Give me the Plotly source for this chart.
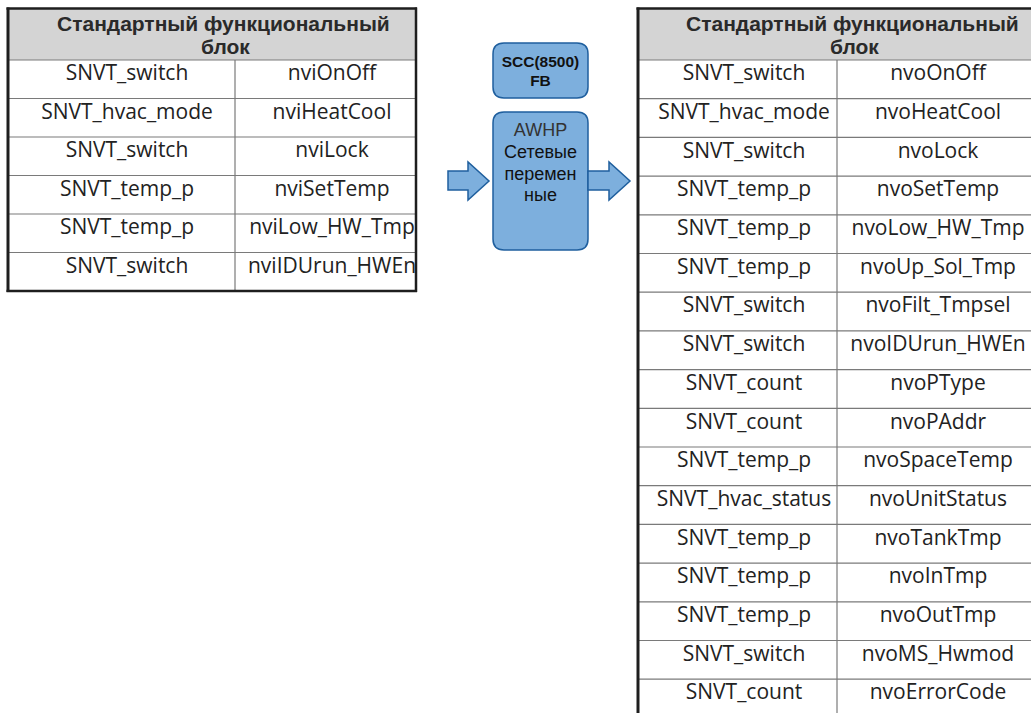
import plotly.graph_objects as go

# ---------------- data ----------------
header_lines = ["Стандартный функциональный", "блок"]

left_types = ["SNVT_switch", "SNVT_hvac_mode", "SNVT_switch", "SNVT_temp_p",
              "SNVT_temp_p", "SNVT_switch"]
left_names = ["nviOnOff", "nviHeatCool", "nviLock", "nviSetTemp",
              "nviLow_HW_Tmp", "nviIDUrun_HWEn"]

right_types = ["SNVT_switch", "SNVT_hvac_mode", "SNVT_switch", "SNVT_temp_p",
               "SNVT_temp_p", "SNVT_temp_p", "SNVT_switch", "SNVT_switch",
               "SNVT_count", "SNVT_count", "SNVT_temp_p", "SNVT_hvac_status",
               "SNVT_temp_p", "SNVT_temp_p", "SNVT_temp_p", "SNVT_switch",
               "SNVT_count"]
right_names = ["nvoOnOff", "nvoHeatCool", "nvoLock", "nvoSetTemp",
               "nvoLow_HW_Tmp", "nvoUp_Sol_Tmp", "nvoFilt_Tmpsel", "nvoIDUrun_HWEn",
               "nvoPType", "nvoPAddr", "nvoSpaceTemp", "nvoUnitStatus",
               "nvoTankTmp", "nvoInTmp", "nvoOutTmp", "nvoMS_Hwmod",
               "nvoErrorCode"]

fb_lines = ["SCC(8500)", "FB"]
awhp_lines = ["AWHP", "Сетевые", "перемен", "ные"]

# ---------------- layout constants ----------------
W, H = 1031, 713
HEAD_TOP, HEAD_BOT = 9, 60
CELL_FONT = dict(family="Open Sans", size=21, color="#222222")
HEAD_FONT = dict(family="Liberation Sans", size=21, color="#2a2a2a")
GRID = "#7a7a7a"
DARK = "#1e1e1e"
BOX_FILL = "#7DAFDD"
BOX_LINE = "#1F5F9E"

fig = go.Figure()
shapes = []


def table(x0, xdiv, x1, types, names, row_h, tx1, tx2, hx, right_border, bottom_border):
    n = len(types)
    ybot = HEAD_BOT + row_h * n
    shapes.append(dict(type="rect", x0=x0, x1=x1, y0=HEAD_TOP, y1=HEAD_BOT,
                       fillcolor="#d4d4d4", line=dict(width=0), layer="below"))
    for i in range(n + 1):
        y = HEAD_BOT + row_h * i
        if y > H:
            break
        shapes.append(dict(type="line", x0=x0, x1=x1, y0=y, y1=y,
                           line=dict(color=GRID, width=1.2)))
    shapes.append(dict(type="line", x0=xdiv, x1=xdiv, y0=HEAD_BOT, y1=min(ybot, H + 5),
                       line=dict(color=GRID, width=1.2)))
    shapes.append(dict(type="line", x0=x0, x1=x0, y0=HEAD_TOP - 1.5, y1=min(ybot, H + 5) + 1,
                       line=dict(color=DARK, width=3)))
    shapes.append(dict(type="line", x0=x0 - 1.5, x1=x1 + (1 if right_border else 5),
                       y0=HEAD_TOP - 0.5, y1=HEAD_TOP - 0.5,
                       line=dict(color=DARK, width=2.5)))
    if right_border:
        shapes.append(dict(type="line", x0=x1, x1=x1, y0=HEAD_TOP - 1.5, y1=ybot + 1,
                           line=dict(color=DARK, width=2.5)))
    if bottom_border:
        shapes.append(dict(type="line", x0=x0 - 1.5, x1=x1 + 1, y0=ybot, y1=ybot,
                           line=dict(color=DARK, width=2.5)))
    ys = [HEAD_BOT + row_h * i + 15 for i in range(n)]
    fig.add_trace(go.Scatter(x=[tx1] * n, y=ys, text=types, mode="text",
                             textfont=CELL_FONT, hoverinfo="skip", showlegend=False))
    fig.add_trace(go.Scatter(x=[tx2] * n, y=ys, text=names, mode="text",
                             textfont=CELL_FONT, hoverinfo="skip", showlegend=False))
    for line, yy, dx in zip(header_lines, [23, 46], [0, 2]):
        fig.add_annotation(x=hx + dx, y=yy, text="<b>" + line + "</b>",
                           showarrow=False, font=HEAD_FONT, xanchor="center", yanchor="middle")


table(8, 235, 416, left_types, left_names, 38.5, 127, 332, 223, True, True)
table(638, 837, 1031, right_types, right_names, 38.7, 744, 938, 852, False, False)


def rounded_rect(x0, y0, x1, y1, r):
    return (f"M {x0+r},{y0} L {x1-r},{y0} Q {x1},{y0} {x1},{y0+r} "
            f"L {x1},{y1-r} Q {x1},{y1} {x1-r},{y1} L {x0+r},{y1} "
            f"Q {x0},{y1} {x0},{y1-r} L {x0},{y0+r} Q {x0},{y0} {x0+r},{y0} Z")


def arrow(x0, xb, xt, ys0, ys1, yh0, yh1):
    yc = (yh0 + yh1) / 2
    return (f"M {x0},{ys0} L {xb},{ys0} L {xb},{yh0} L {xt},{yc} "
            f"L {xb},{yh1} L {xb},{ys1} L {x0},{ys1} Z")


for p in [rounded_rect(493, 43, 588, 98, 11), rounded_rect(493, 112, 588, 250, 11),
          arrow(448, 468, 489, 171, 190, 162, 200), arrow(588, 609, 630, 171, 190, 162, 200)]:
    shapes.append(dict(type="path", path=p, fillcolor=BOX_FILL, layer="below",
                       line=dict(color=BOX_LINE, width=1.5)))

fig.add_trace(go.Scatter(x=[540.5] * len(fb_lines), y=[63, 82], text=["<b>%s</b>" % t for t in fb_lines],
                         mode="text", textfont=dict(family="Liberation Sans", size=15.5, color="#111111"),
                         hoverinfo="skip", showlegend=False))
awhp_y = [131, 153, 175, 196]
awhp_col = ["#333333", "#111111", "#111111", "#111111"]
fig.add_trace(go.Scatter(x=[540.5] * len(awhp_lines), y=awhp_y, text=awhp_lines, mode="text",
                         textfont=dict(family="Liberation Sans", size=18, color=awhp_col),
                         hoverinfo="skip", showlegend=False))

fig.update_layout(
    width=W, height=H, margin=dict(l=0, r=0, t=0, b=0),
    paper_bgcolor="white", plot_bgcolor="white", shapes=shapes,
    xaxis=dict(range=[0, W], visible=False, fixedrange=True),
    yaxis=dict(range=[H, 0], visible=False, fixedrange=True),
)
fig.write_html("out.html", config={"displayModeBar": False},
               post_script="document.body.style.margin='0';document.body.style.overflow='hidden';")
